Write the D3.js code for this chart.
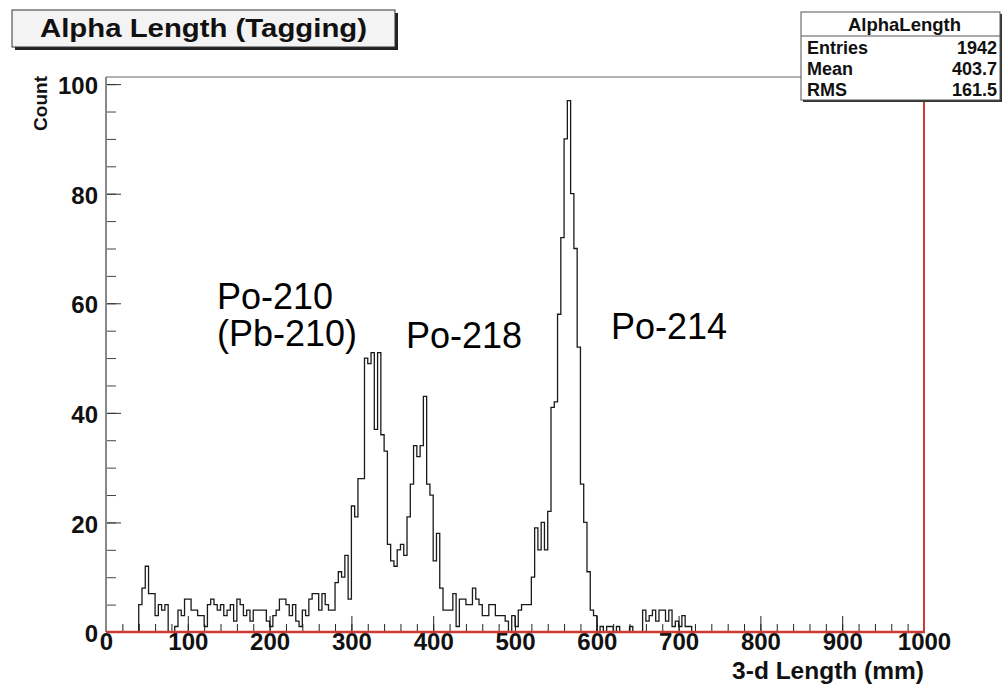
<!DOCTYPE html>
<html>
<head>
<meta charset="utf-8">
<script src="https://cdn.jsdelivr.net/npm/d3@7"></script>
<style>
  body { margin: 0; background: #fff; }
  text { font-family: "Liberation Sans", Arial, Helvetica, sans-serif; }
</style>
</head>
<body>
<div id="chart"></div>
<script>
// histogram contents: 250 bins of 4 mm between 0 and 1000 mm
const binWidth = 4;
const counts = [
   0,  0,  0,  0,  0,  0,  0,  0,  0,  0,
   5,  8, 12,  7,  7,  3,  5,  4,  5,  0,
   0,  1,  4,  3,  6,  6,  4,  4,  3,  3,
   1,  5,  6,  5,  4,  5,  3,  4,  5,  2,
   6,  5,  3,  4,  2,  4,  4,  4,  4,  2,
   1,  3,  4,  6,  6,  5,  3,  5,  2,  1,
   4,  3,  6,  7,  7,  4,  7,  5,  4,  4,
   9, 11, 10, 14,  6, 23, 21, 28, 28, 50,
  49, 51, 37, 51, 36, 33, 16, 13, 12, 15,
  16, 14, 21, 27, 34, 32, 34, 43, 27, 25,
  13, 18,  8,  4,  4,  4,  7,  1,  6,  6,
   5,  5,  8,  6,  5,  3,  3,  5,  5,  3,
   3,  3,  2,  0,  3,  1,  4,  5,  5,  5,
  10, 19, 15, 20, 15, 22, 41, 42, 58, 72,
  90, 97, 80, 70, 52, 27, 20, 11,  4,  3,
   0,  1,  0,  1,  1,  0,  1,  0,  0,  0,
   1,  0,  0,  0,  4,  2,  3,  4,  2,  4,
   4,  2,  4,  1,  2,  1,  3,  1,  1,  0,
   0,  0,  0,  0,  0,  0,  0,  0,  0,  0,
   0,  0,  0,  0,  0,  0,  0,  0,  0,  0,
   0,  0,  0,  0,  0,  0,  0,  0,  0,  0,
   0,  0,  0,  0,  0,  0,  0,  0,  0,  0,
   0,  0,  0,  0,  0,  0,  0,  0,  0,  0,
   0,  0,  0,  0,  0,  0,  0,  0,  0,  0,
   0,  0,  0,  0,  0,  0,  0,  0,  0,  0
];

const xMajorTicks = [0, 100, 200, 300, 400, 500, 600, 700, 800, 900, 1000];
const yMajorTicks = [0, 20, 40, 60, 80, 100];

const titleText = "Alpha Length (Tagging)";
const xTitle = "3-d Length (mm)";
const yTitle = "Count";

const statsName = "AlphaLength";
const statsLabels = ["Entries", "Mean", "RMS"];
const statsValues = ["1942", "403.7", "161.5"];

const peakNames = ["Po-210", "(Pb-210)", "Po-218", "Po-214"];

// layout
const W = 1004, H = 688;
const frame = {left: 106, right: 924, top: 77, bottom: 632};
const red = "#cc3b36";

const svg = d3.select("#chart").append("svg")
    .attr("width", W)
    .attr("height", H);

const x = d3.scaleLinear().domain([0, 1000]).range([frame.left, frame.right]);
const y = d3.scaleLinear().domain([0, 101.3]).range([frame.bottom, frame.top]);

// minor ticks
svg.append("g")
    .attr("transform", `translate(0,${frame.bottom})`)
    .call(d3.axisBottom(x).tickValues(d3.range(0, 1001, 20)).tickSize(-8).tickFormat(""))
    .call(g => g.select(".domain").remove())
    .call(g => g.selectAll("line").attr("stroke", "#222"));

svg.append("g")
    .attr("transform", `translate(${frame.left},0)`)
    .call(d3.axisLeft(y).tickValues(d3.range(0, 101, 5)).tickSize(-10).tickFormat(""))
    .call(g => g.select(".domain").remove())
    .call(g => g.selectAll("line").attr("stroke", "#444"));

// major ticks + labels
const xAxis = svg.append("g")
    .attr("transform", `translate(0,${frame.bottom})`)
    .call(d3.axisBottom(x).tickValues(xMajorTicks).tickSize(-16).tickPadding(1).tickFormat(d3.format("d")))
    .call(g => g.select(".domain").remove());
xAxis.selectAll("line").attr("stroke", "#222");
xAxis.selectAll("text")
    .attr("fill", "#111")
    .style("font-size", "24px")
    .style("font-weight", "bold");

const yAxis = svg.append("g")
    .attr("transform", `translate(${frame.left},0)`)
    .call(d3.axisLeft(y).tickValues(yMajorTicks).tickSize(-15).tickPadding(8))
    .call(g => g.select(".domain").remove());
yAxis.selectAll("line").attr("stroke", "#333");
yAxis.selectAll("text")
    .attr("fill", "#111")
    .attr("dy", "0.4em")
    .style("font-size", "24px")
    .style("font-weight", "bold");

// histogram outline
const edges = counts.map((c, i) => ({x0: i * binWidth, x1: (i + 1) * binWidth, c: c}));
const step = d3.line().x(d => x(d[0])).y(d => y(d[1]));
const pts = [[0, 0]];
edges.forEach(e => { pts.push([e.x0, e.c]); pts.push([e.x1, e.c]); });
pts.push([1000, 0]);
svg.append("path")
    .datum(pts)
    .attr("d", step)
    .attr("fill", "none")
    .attr("stroke", "#1a1a1a")
    .attr("stroke-width", 1.3);

// frame: grey top/left, red bottom/right
svg.append("line").attr("x1", frame.left).attr("x2", frame.right)
    .attr("y1", frame.top).attr("y2", frame.top)
    .attr("stroke", "#999").attr("stroke-width", 1.5);
svg.append("line").attr("x1", frame.left).attr("x2", frame.left)
    .attr("y1", frame.top).attr("y2", frame.bottom)
    .attr("stroke", "#888").attr("stroke-width", 2);
svg.append("line").attr("x1", frame.right).attr("x2", frame.right)
    .attr("y1", frame.top).attr("y2", frame.bottom)
    .attr("stroke", red).attr("stroke-width", 2);
svg.append("line").attr("x1", frame.left).attr("x2", frame.right + 1)
    .attr("y1", frame.bottom).attr("y2", frame.bottom)
    .attr("stroke", red).attr("stroke-width", 2.5);

// axis titles
svg.append("text")
    .attr("x", frame.right).attr("y", 679)
    .attr("text-anchor", "end")
    .style("font-size", "24.5px").style("font-weight", "bold")
    .attr("fill", "#111")
    .text(xTitle);

svg.append("text")
    .attr("transform", `translate(47,${frame.top - 1}) rotate(-90)`)
    .attr("text-anchor", "end")
    .style("font-size", "19px").style("font-weight", "bold")
    .attr("fill", "#111")
    .text(yTitle);

// title box with shadow
const tb = {x: 12, y: 10, w: 383, h: 37};
svg.append("rect").attr("x", tb.x + 3).attr("y", tb.y + 3)
    .attr("width", tb.w).attr("height", tb.h).attr("fill", "#222");
svg.append("rect").attr("x", tb.x).attr("y", tb.y)
    .attr("width", tb.w).attr("height", tb.h)
    .attr("fill", "#f3f3f3").attr("stroke", "#333").attr("stroke-width", 1);
svg.append("text")
    .attr("x", 40).attr("y", 37)
    .attr("textLength", 327).attr("lengthAdjust", "spacingAndGlyphs")
    .style("font-size", "26px").style("font-weight", "bold")
    .attr("fill", "#111")
    .text(titleText);

// stats box
const sb = {x: 801, y: 12, w: 199, h: 88};
svg.append("rect").attr("x", sb.x + 2).attr("y", sb.y + 2)
    .attr("width", sb.w).attr("height", sb.h).attr("fill", "#333");
svg.append("rect").attr("x", sb.x).attr("y", sb.y)
    .attr("width", sb.w).attr("height", sb.h)
    .attr("fill", "#fff").attr("stroke", "#555").attr("stroke-width", 1);
svg.append("line").attr("x1", sb.x).attr("x2", sb.x + sb.w)
    .attr("y1", 36).attr("y2", 36).attr("stroke", "#555");
svg.append("text")
    .attr("x", sb.x + sb.w / 2 + 4).attr("y", 31)
    .attr("text-anchor", "middle")
    .style("font-size", "18.5px").style("font-weight", "bold")
    .attr("fill", "#111")
    .text(statsName);
const rowY = [54, 75, 96];
statsLabels.forEach((lab, i) => {
  svg.append("text").attr("x", sb.x + 6).attr("y", rowY[i])
      .style("font-size", "18px").style("font-weight", "bold")
      .attr("fill", "#111").text(lab);
  svg.append("text").attr("x", sb.x + sb.w - 3).attr("y", rowY[i])
      .attr("text-anchor", "end")
      .style("font-size", "18px").style("font-weight", "bold")
      .attr("fill", "#111").text(statsValues[i]);
});

// peak annotations
const peakPos = [[217, 309], [217, 346], [406, 348], [611, 339]];
peakNames.forEach((t, i) => {
  svg.append("text")
      .attr("x", peakPos[i][0]).attr("y", peakPos[i][1])
      .style("font-size", "36px")
      .attr("fill", "#000")
      .text(t);
});
</script>
</body>
</html>
